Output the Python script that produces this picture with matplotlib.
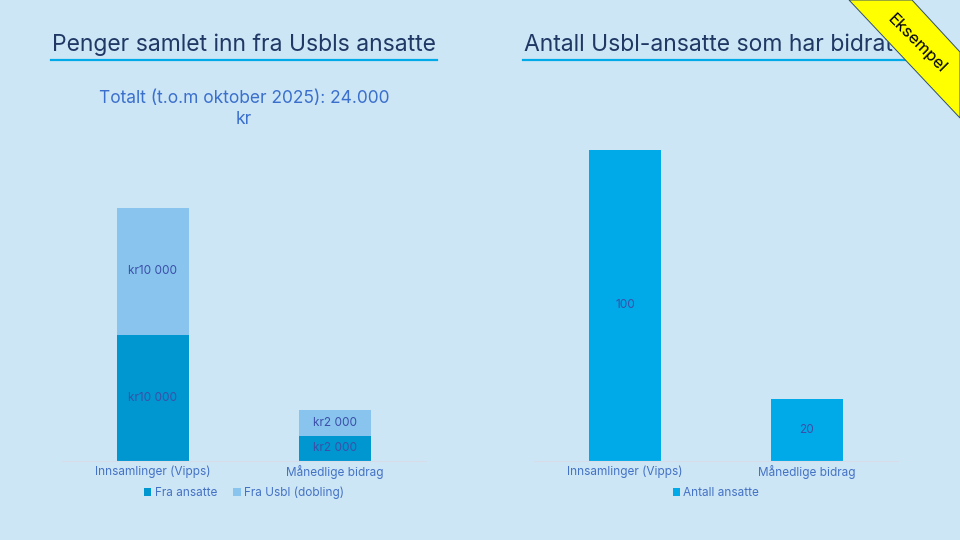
import matplotlib
matplotlib.use("Agg")
import matplotlib.pyplot as plt
from matplotlib.patches import Polygon
import numpy as np

categories = ["Innsamlinger (Vipps)", "Månedlige bidrag"]
fra_ansatte = [10000, 2000]
fra_usbl = [10000, 2000]
antall_ansatte = [100, 20]
left_labels = ["kr10 000", "kr2 000"]

plt.rcParams['font.family'] = ['Inter', 'DejaVu Sans']

BG = "#CDE6F6"
DARK = "#0096D0"
LIGHT = "#88C4EE"
RIGHTC = "#00AAE8"
TICKC = "#4472C4"
LBLC = "#3B4FA8"
TITLEC = "#1F3864"

W, H = 960, 540
fig = plt.figure(figsize=(9.6, 5.4), dpi=100, facecolor=BG)

def px_axes(x0, x1, ytop, ybot):
    return fig.add_axes([x0 / W, 1 - ybot / H, (x1 - x0) / W, (ybot - ytop) / H])

x = np.arange(len(categories))
bw = 0.4

# Left chart
axL = px_axes(62, 426, 150, 461)
axL.set_facecolor("none")
axL.bar(x, fra_ansatte, bw, color=DARK, label="Fra ansatte")
axL.bar(x, fra_usbl, bw, bottom=fra_ansatte, color=LIGHT, label="Fra Usbl (dobling)")
axL.set_ylim(0, 20000 * 311 / 253)
axL.set_xlim(-0.5, 1.5)
for i in range(len(categories)):
    axL.text(x[i], fra_ansatte[i] / 2, left_labels[i], ha="center", va="center", color=LBLC, fontsize=8.5)
    axL.text(x[i], fra_ansatte[i] + fra_usbl[i] / 2, left_labels[i], ha="center", va="center", color=LBLC, fontsize=8.5)

# Right chart
axR = px_axes(534, 898, 134, 461)
axR.set_facecolor("none")
axR.bar(x, antall_ansatte, bw, color=RIGHTC, label="Antall ansatte")
axR.set_ylim(0, 105)
axR.set_xlim(-0.5, 1.5)
for i in range(len(categories)):
    axR.text(x[i], antall_ansatte[i] / 2, str(antall_ansatte[i]), ha="center", va="center", color=LBLC, fontsize=8.5)

for ax, hgt in ((axL, 311), (axR, 327)):
    ax.set_xticks(x)
    ax.set_xticklabels(categories, color=TICKC, fontsize=8.5)
    ax.tick_params(axis="x", length=0, pad=3)
    ax.set_yticks([])
    for s in ("left", "right", "top"):
        ax.spines[s].set_visible(False)
    ax.spines["bottom"].set_color("#D6DCE8")
    ax.spines["bottom"].set_linewidth(0.8)
    ax.legend(loc="center", bbox_to_anchor=(0.5, -32 / hgt), ncol=2, frameon=False,
              fontsize=8.5, handlelength=0.6, handleheight=0.6, handletextpad=0.3,
              columnspacing=1.4, labelcolor=TICKC)

# Titles
fig.text(52 / W, 1 - 45 / H, "Penger samlet inn fra Usbls ansatte", fontsize=16.5, color=TITLEC,
         ha="left", va="center")
fig.add_artist(plt.Line2D([51 / W, 437 / W], [1 - 60 / H, 1 - 60 / H], color=RIGHTC, lw=1.6))
fig.text(524 / W, 1 - 45 / H, "Antall Usbl-ansatte som har bidratt", fontsize=16.5, color=TITLEC,
         ha="left", va="center")
fig.add_artist(plt.Line2D([523 / W, 905 / W], [1 - 60 / H, 1 - 60 / H], color=RIGHTC, lw=1.6))

fig.text(244 / W, 1 - 109 / H, "Totalt (t.o.m oktober 2025): 24.000\nkr", fontsize=12.5,
         color="#3A6FCC", ha="center", va="center", linespacing=1.35)

# Banner
poly = Polygon([(849 / W, 1), (912 / W, 1), (1, 1 - 52 / H), (1, 1 - 118 / H)],
               closed=True, transform=fig.transFigure, facecolor="#FFFF00",
               edgecolor="#2F4F6F", lw=0.7, zorder=10)
fig.add_artist(poly)
fig.text(917 / W, 1 - 44 / H, "Eksempel", rotation=-45, fontsize=12, color="black",
         ha="center", va="center", zorder=11, rotation_mode="anchor")

fig.savefig("out.png", dpi=100, facecolor=BG)
